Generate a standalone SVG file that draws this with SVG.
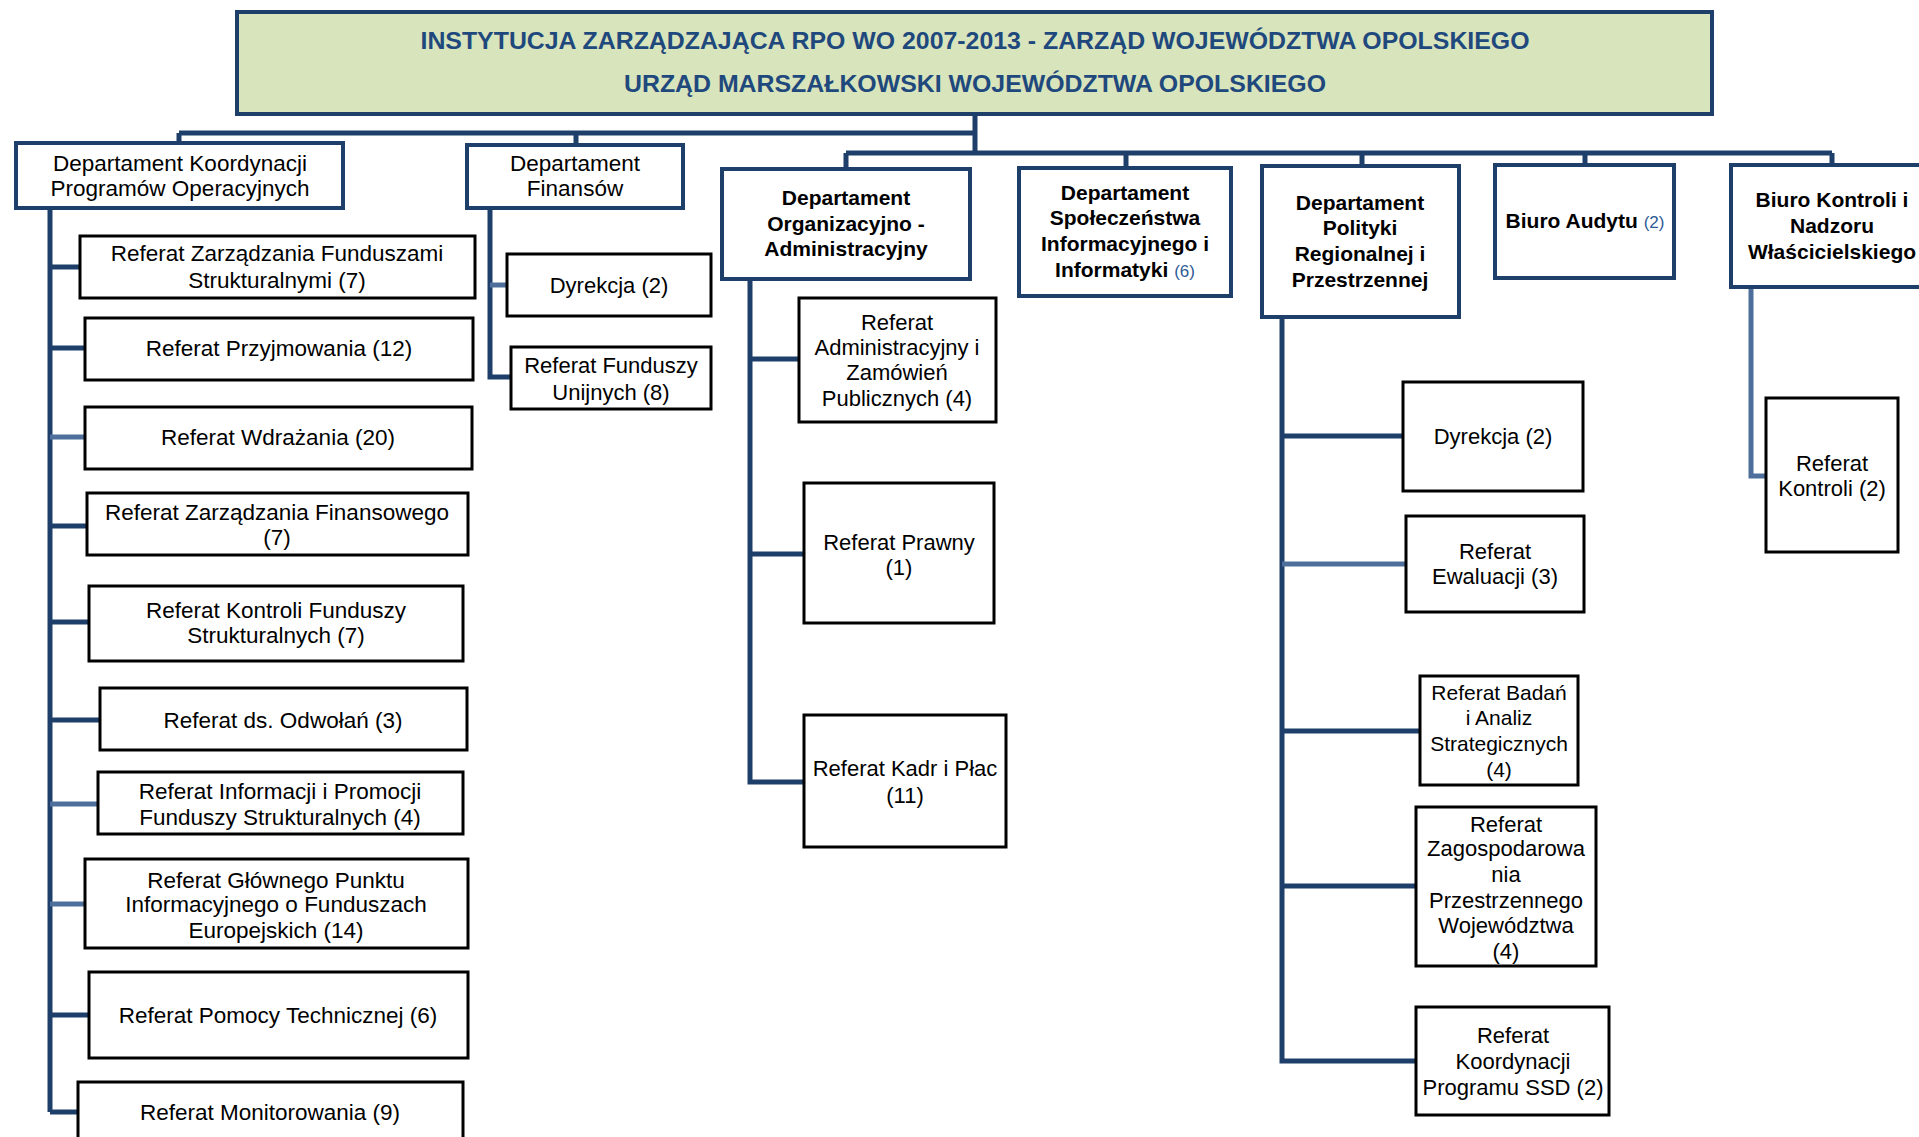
<svg xmlns="http://www.w3.org/2000/svg" width="1919" height="1137" viewBox="0 0 1919 1137">
<style>
.bg{fill:#fff}
.top{fill:#D8E4BC;stroke:#1F3F6B;stroke-width:4}
.dept{fill:#fff;stroke:#1F3F6B;stroke-width:4}
.ref{fill:#fff;stroke:#000;stroke-width:3}
.t{font-family:"Liberation Sans",Arial,sans-serif;font-size:22.5px;fill:#000;text-anchor:middle}
.h{font-size:21px;font-weight:bold}
.m{font-size:22px}
.n{font-size:21px}
.ttl{font-family:"Liberation Sans",Arial,sans-serif;font-size:24px;font-weight:bold;fill:#1F497D;text-anchor:middle}
.blue{fill:#2E5A94;font-weight:normal;font-size:17px}
.ln{stroke:#1F3F6B;stroke-width:5;fill:none}
.lt{stroke:#4E6E9B}
</style>
<rect class="bg" x="0" y="0" width="1919" height="1137"/>

<g id="connectors">
  <path class="ln" d="M975 115V153M179 133H975M179 133V143M576 133V145M846 153H1832M846 153V169M1126 153V168M1362 153V166M1585 153V165M1832 153V165"/>
  <path class="ln" d="M50 208V1112M50 267H80M50 348H85M50 526H87M50 622H89M50 720H100M50 1015H89M50 1112H78"/>
  <path class="ln lt" d="M50 437H85M50 804H98M50 904H85"/>
  <path class="ln" d="M490 208V377H511"/>
  <path class="ln lt" d="M490 285H507"/>
  <path class="ln" d="M750 279V782H804M750 359H799M750 554H804"/>
  <path class="ln" d="M1282 317V1061H1416M1282 436H1403M1282 731H1420M1282 886H1416"/>
  <path class="ln lt" d="M1282 564H1406"/>
  <path class="ln lt" d="M1751 287V476H1766"/>
</g>

<g id="top">
  <rect class="top" x="237" y="12" width="1475" height="102"/>
  <text class="ttl" x="975" y="49" textLength="1109" lengthAdjust="spacingAndGlyphs">INSTYTUCJA ZARZĄDZAJĄCA RPO WO 2007-2013 - ZARZĄD WOJEWÓDZTWA OPOLSKIEGO</text>
  <text class="ttl" x="975" y="92" textLength="702" lengthAdjust="spacingAndGlyphs">URZĄD MARSZAŁKOWSKI WOJEWÓDZTWA OPOLSKIEGO</text>
</g>

<g id="dkpo">
  <rect class="dept" x="16" y="143" width="327" height="65"/>
  <text class="t" x="180" y="171">Departament Koordynacji</text>
  <text class="t" x="180" y="196">Programów Operacyjnych</text>
</g>
<g id="dfin">
  <rect class="dept" x="467" y="145" width="216" height="63"/>
  <text class="t" x="575" y="171">Departament</text>
  <text class="t" x="575" y="196">Finansów</text>
</g>
<g id="doa">
  <rect class="dept" x="722" y="169" width="248" height="110"/>
  <text class="t h" x="846" y="205">Departament</text>
  <text class="t h" x="846" y="231">Organizacyjno -</text>
  <text class="t h" x="846" y="256">Administracyjny</text>
</g>
<g id="dsii">
  <rect class="dept" x="1019" y="168" width="212" height="128"/>
  <text class="t h" x="1125" y="200">Departament</text>
  <text class="t h" x="1125" y="225">Społeczeństwa</text>
  <text class="t h" x="1125" y="251">Informacyjnego i</text>
  <text class="t h" x="1125" y="277">Informatyki <tspan class="blue">(6)</tspan></text>
</g>
<g id="dprp">
  <rect class="dept" x="1262" y="166" width="197" height="151"/>
  <text class="t h" x="1360" y="210">Departament</text>
  <text class="t h" x="1360" y="235">Polityki</text>
  <text class="t h" x="1360" y="261">Regionalnej i</text>
  <text class="t h" x="1360" y="287">Przestrzennej</text>
</g>
<g id="baud">
  <rect class="dept" x="1495" y="165" width="179" height="113"/>
  <text class="t h" x="1585" y="228">Biuro Audytu <tspan class="blue" font-size="21px">(2)</tspan></text>
</g>
<g id="bknw">
  <rect class="dept" x="1731" y="165" width="200" height="122"/>
  <text class="t h" x="1832" y="207">Biuro Kontroli i</text>
  <text class="t h" x="1832" y="233">Nadzoru</text>
  <text class="t h" x="1832" y="259">Właścicielskiego</text>
</g>

<g id="r1"><rect class="ref" x="80" y="236" width="395" height="62"/>
  <text class="t" x="277" y="261">Referat Zarządzania Funduszami</text>
  <text class="t" x="277" y="288">Strukturalnymi (7)</text></g>
<g id="r2"><rect class="ref" x="85" y="318" width="388" height="62"/>
  <text class="t" x="279" y="356">Referat Przyjmowania (12)</text></g>
<g id="r3"><rect class="ref" x="85" y="407" width="387" height="62"/>
  <text class="t" x="278" y="445">Referat Wdrażania  (20)</text></g>
<g id="r4"><rect class="ref" x="87" y="493" width="381" height="62"/>
  <text class="t" x="277" y="520">Referat Zarządzania Finansowego</text>
  <text class="t" x="277" y="545">(7)</text></g>
<g id="r5"><rect class="ref" x="89" y="586" width="374" height="75"/>
  <text class="t" x="276" y="618">Referat Kontroli Funduszy</text>
  <text class="t" x="276" y="643">Strukturalnych (7)</text></g>
<g id="r6"><rect class="ref" x="100" y="688" width="367" height="62"/>
  <text class="t" x="283" y="728">Referat ds. Odwołań (3)</text></g>
<g id="r7"><rect class="ref" x="98" y="772" width="365" height="62"/>
  <text class="t" x="280" y="799">Referat Informacji i Promocji</text>
  <text class="t" x="280" y="825">Funduszy Strukturalnych (4)</text></g>
<g id="r8"><rect class="ref" x="85" y="859" width="383" height="89"/>
  <text class="t" x="276" y="888">Referat Głównego Punktu</text>
  <text class="t" x="276" y="912">Informacyjnego o Funduszach</text>
  <text class="t" x="276" y="938">Europejskich (14)</text></g>
<g id="r9"><rect class="ref" x="89" y="972" width="379" height="86"/>
  <text class="t" x="278" y="1023">Referat Pomocy Technicznej (6)</text></g>
<g id="r10"><rect class="ref" x="78" y="1082" width="385" height="70"/>
  <text class="t" x="270" y="1120">Referat Monitorowania (9)</text></g>

<g id="f1"><rect class="ref" x="507" y="254" width="204" height="62"/>
  <text class="t m" x="609" y="293">Dyrekcja (2)</text></g>
<g id="f2"><rect class="ref" x="511" y="347" width="200" height="62"/>
  <text class="t m" x="611" y="373">Referat Funduszy</text>
  <text class="t m" x="611" y="400">Unijnych (8)</text></g>

<g id="o1"><rect class="ref" x="799" y="298" width="197" height="124"/>
  <text class="t m" x="897" y="330">Referat</text>
  <text class="t m" x="897" y="355">Administracyjny i</text>
  <text class="t m" x="897" y="380">Zamówień</text>
  <text class="t m" x="897" y="406">Publicznych (4)</text></g>
<g id="o2"><rect class="ref" x="804" y="483" width="190" height="140"/>
  <text class="t m" x="899" y="550">Referat Prawny</text>
  <text class="t m" x="899" y="575">(1)</text></g>
<g id="o3"><rect class="ref" x="804" y="715" width="202" height="132"/>
  <text class="t m" x="905" y="776">Referat Kadr i Płac</text>
  <text class="t m" x="905" y="803">(11)</text></g>

<g id="p1"><rect class="ref" x="1403" y="382" width="180" height="109"/>
  <text class="t m" x="1493" y="444">Dyrekcja (2)</text></g>
<g id="p2"><rect class="ref" x="1406" y="516" width="178" height="96"/>
  <text class="t m" x="1495" y="559">Referat</text>
  <text class="t m" x="1495" y="584">Ewaluacji (3)</text></g>
<g id="p3"><rect class="ref" x="1420" y="676" width="158" height="109"/>
  <text class="t n" x="1499" y="700">Referat Badań</text>
  <text class="t n" x="1499" y="725">i Analiz</text>
  <text class="t n" x="1499" y="751">Strategicznych</text>
  <text class="t n" x="1499" y="777">(4)</text></g>
<g id="p4"><rect class="ref" x="1416" y="807" width="180" height="159"/>
  <text class="t m" x="1506" y="832">Referat</text>
  <text class="t m" x="1506" y="856">Zagospodarowa</text>
  <text class="t m" x="1506" y="882">nia</text>
  <text class="t m" x="1506" y="908">Przestrzennego</text>
  <text class="t m" x="1506" y="933">Województwa</text>
  <text class="t m" x="1506" y="959">(4)</text></g>
<g id="p5"><rect class="ref" x="1416" y="1007" width="193" height="108"/>
  <text class="t m" x="1513" y="1043">Referat</text>
  <text class="t m" x="1513" y="1069">Koordynacji</text>
  <text class="t m" x="1513" y="1095">Programu SSD (2)</text></g>

<g id="k1"><rect class="ref" x="1766" y="398" width="132" height="154"/>
  <text class="t m" x="1832" y="471">Referat</text>
  <text class="t m" x="1832" y="496">Kontroli (2)</text></g>
</svg>
